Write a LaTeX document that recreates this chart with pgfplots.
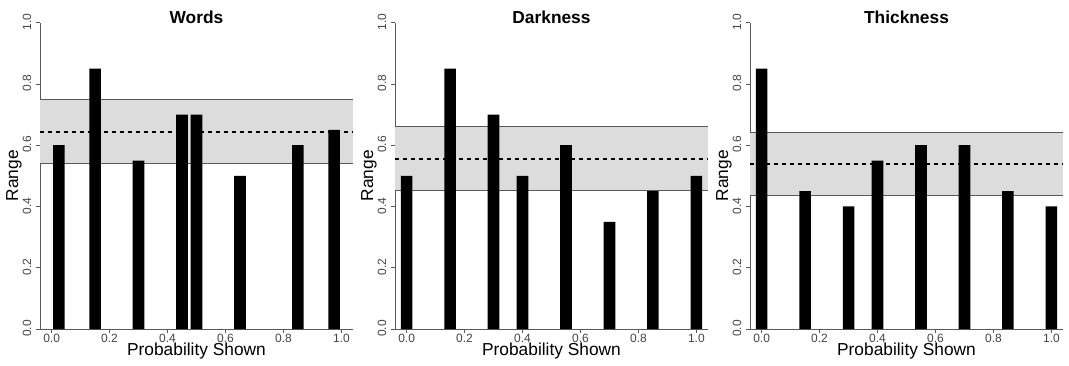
\documentclass[border=0pt]{standalone}
\usepackage{fontspec}
\setmainfont{Liberation Sans}
\usepackage{pgfplots}
\usepackage{pgfplotstable}
\pgfplotsset{compat=1.18}
\definecolor{bandfill}{HTML}{DCDCDC}
\definecolor{axgray}{HTML}{5A5A5A}
\definecolor{lblgray}{HTML}{444444}

\pgfplotstableread{
x y
0.025 0.60
0.15 0.85
0.30 0.55
0.45 0.70
0.50 0.70
0.65 0.50
0.85 0.60
0.975 0.65
}\words
\pgfplotstableread{
x y
0.00 0.50
0.15 0.85
0.30 0.70
0.40 0.50
0.55 0.60
0.70 0.35
0.85 0.45
1.00 0.50
}\darkness
\pgfplotstableread{
x y
0.00 0.85
0.15 0.45
0.30 0.40
0.40 0.55
0.55 0.60
0.70 0.60
0.85 0.45
1.00 0.40
}\thickness

\pgfplotsset{panel/.style={
  scale only axis, width=234.75pt, height=229.7pt,
  anchor=south west,
  xmin=-0.04, xmax=1.04, ymin=0, ymax=1,
  axis x line*=bottom, axis y line*=left,
  axis line style={axgray, line width=0.6pt, -},
  xtick={0,0.2,0.4,0.6,0.8,1}, ytick={0,0.2,0.4,0.6,0.8,1},
  tick align=outside, major tick length=3pt,
  tick style={axgray, line width=0.6pt},
  ticklabel style={font=\fontsize{9}{10}\selectfont, text=lblgray},
  /pgf/number format/fixed, /pgf/number format/fixed zerofill,
  /pgf/number format/precision=1, /pgf/number format/assume math mode=true,
  yticklabel style={rotate=90, anchor=south, xshift=0.5pt},
  xticklabel shift=-3pt,
  xlabel={Probability Shown}, ylabel={Range},
  label style={font=\fontsize{13}{15}\selectfont},
  xlabel style={at={(axis description cs:0.5,-0.0705)}, anchor=center},
  ylabel style={at={(axis description cs:-0.083,0.5)}, anchor=center},
  title style={font=\bfseries\fontsize{13}{15}\selectfont, at={(axis description cs:0.5,1.0)}, anchor=base, yshift=-6.5pt},
}}

\newcommand{\panel}[6]{%
  % #1 position, #2 title, #3 table, #4 low, #5 high, #6 mean
  \begin{axis}[panel, at={#1}, title={#2}]
    \addplot[fill=bandfill, draw=none] coordinates {(-0.04,#4) (1.04,#4) (1.04,#5) (-0.04,#5)};
    \addplot[axgray, line width=0.75pt] coordinates {(-0.04,#4) (1.04,#4)};
    \addplot[axgray, line width=0.75pt] coordinates {(-0.04,#5) (1.04,#5)};
    \addplot[black, line width=1.8pt, dash pattern=on 3pt off 3pt] coordinates {(-0.04,#6) (1.04,#6)};
    \addplot[ybar, bar width=0.04, bar shift=0pt, fill=black, draw=none] table[x=x,y=y] {#3};
  \end{axis}}

\begin{document}
\begin{tikzpicture}
\panel{(30pt,27pt)}{Words}{\words}{0.541}{0.749}{0.644}
\panel{(296.25pt,27pt)}{Darkness}{\darkness}{0.452}{0.660}{0.556}
\panel{(562.5pt,27pt)}{Thickness}{\thickness}{0.435}{0.641}{0.538}
\pgfresetboundingbox
\path[use as bounding box] (0,0) rectangle (801.75pt,273.75pt);
\end{tikzpicture}
\end{document}
